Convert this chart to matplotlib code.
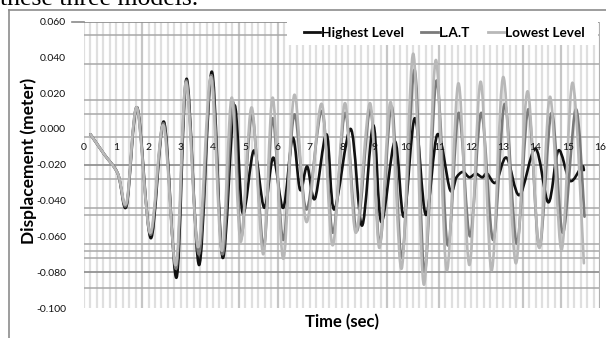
import numpy as np
import matplotlib
matplotlib.use("Agg")
import matplotlib.pyplot as plt
from matplotlib.path import Path
from matplotlib.patches import PathPatch, Rectangle
from matplotlib.lines import Line2D

# peaks / troughs: time (sec), displacement (meter)
t_high = [0.20, 0.62, 1.05, 1.32, 1.65, 2.07, 2.48, 2.87, 3.18, 3.57, 3.96, 4.30, 4.66, 4.92,
          5.27, 5.59, 5.87, 6.18, 6.47, 6.70, 6.92, 7.16, 7.52, 7.76, 8.27, 8.62, 8.97, 9.22,
          9.64, 9.92, 10.26, 10.60, 10.96, 11.35, 11.55, 11.75, 11.95, 12.15, 12.35, 12.50,
          12.77, 13.10, 13.50, 14.00, 14.40, 14.71, 15.07, 15.43, 15.50]
d_high = [-0.003, -0.014, -0.025, -0.043, 0.012, -0.061, 0.004, -0.083, 0.028, -0.076, 0.032, -0.072, 0.013, -0.047,
          -0.012, -0.044, -0.016, -0.044, -0.005, -0.034, -0.021, -0.039, -0.003, -0.045, 0.000, -0.054, 0.002, -0.052,
          -0.007, -0.049, 0.006, -0.048, -0.003, -0.034, -0.027, -0.024, -0.027, -0.025, -0.027, -0.025,
          -0.030, -0.016, -0.037, -0.011, -0.041, -0.012, -0.029, -0.021, -0.023]

t_lat = [0.20, 0.62, 1.05, 1.32, 1.64, 2.06, 2.47, 2.86, 3.17, 3.56, 3.95, 4.29, 4.62, 4.87,
         5.21, 5.57, 5.85, 6.18, 6.52, 6.90, 7.38, 7.72, 8.10, 8.46, 8.88, 9.17, 9.54, 9.86,
         10.25, 10.56, 10.93, 11.28, 11.62, 11.97, 12.32, 12.69, 13.05, 13.42, 13.78, 14.12,
         14.50, 14.85, 15.25, 15.52]
d_lat = [-0.003, -0.014, -0.025, -0.042, 0.012, -0.059, 0.003, -0.078, 0.027, -0.070, 0.030, -0.070, 0.015, -0.061,
         0.008, -0.066, 0.006, -0.062, 0.008, -0.045, 0.010, -0.058, 0.009, -0.057, 0.011, -0.064, 0.0125, -0.072,
         0.033, -0.080, 0.027, -0.065, 0.009, -0.060, 0.009, -0.062, 0.014, -0.064, 0.011, -0.066,
         0.009, -0.058, 0.011, -0.049]

t_low = [0.20, 0.62, 1.05, 1.32, 1.64, 2.05, 2.46, 2.85, 3.16, 3.54, 3.93, 4.27, 4.58, 4.86,
         5.20, 5.56, 5.85, 6.18, 6.52, 6.90, 7.37, 7.71, 8.09, 8.43, 8.87, 9.16, 9.51, 9.85,
         10.21, 10.54, 10.91, 11.25, 11.61, 11.95, 12.30, 12.64, 13.00, 13.39, 13.75, 14.12,
         14.45, 14.81, 15.15, 15.50]
d_low = [-0.003, -0.014, -0.025, -0.041, 0.012, -0.058, 0.002, -0.076, 0.026, -0.066, 0.029, -0.068, 0.0175, -0.063,
         0.012, -0.070, 0.0175, -0.0725, 0.019, -0.052, 0.014, -0.065, 0.0144, -0.058, 0.0144, -0.0665, 0.015, -0.078,
         0.042, -0.087, 0.0385, -0.079, 0.0255, -0.076, 0.0264, -0.079, 0.029, -0.075, 0.021, -0.0665,
         0.018, -0.0675, 0.0258, -0.075]

labels = ["Highest Level", "L.A.T", "Lowest Level"]
colors = ["#111111", "#7a7a7a", "#b8b8b8"]
y_ticks = [0.06, 0.04, 0.02, 0.0, -0.02, -0.04, -0.06, -0.08, -0.10]
x_ticks = list(range(0, 17))


def smooth_path(t, d):
    # excel style smoothed line: cubic bezier through the read points
    p = np.column_stack([t, d])
    n = len(p)
    verts = [p[0]]
    codes = [Path.MOVETO]
    for i in range(n - 1):
        p0 = p[i - 1] if i > 0 else p[i]
        p3 = p[i + 2] if i + 2 < n else p[i + 1]
        verts += [p[i] + (p[i + 1] - p0) / 6, p[i + 1] - (p3 - p[i]) / 6, p[i + 1]]
        codes += [Path.CURVE4] * 3
    return Path(verts, codes)


W, H = 606, 338
fig = plt.figure(figsize=(W / 100, H / 100), dpi=100)
ax = fig.add_axes([84 / W, 1 - 308 / H, 516 / W, 286.5 / H])
ax.set_xlim(0, 16)
ax.set_ylim(-0.10, 0.06)
for s in ax.spines.values():
    s.set_visible(False)

# messy scanned gridlines
dark_v = [1.8, 4.8, 6.0, 9.4, 11.0, 13.6, 14.8]
for tv in np.arange(0, 16.01, 0.2):
    c = "#c6c6c6" if any(abs(tv - d) < 0.05 for d in dark_v) else "#dfdfdf"
    ax.axvline(tv, color=c, lw=1.6, zorder=0.5)
grid_h = [0.0525, 0.0361, 0.016, 0.0083, -0.0043, -0.028, -0.0443, -0.048,
          -0.0644, -0.068, -0.0722, -0.0887]
for gv in grid_h:
    ax.axhline(gv, color="#a8a8a8", lw=1.1, zorder=1)
for gv in [0.06, -0.02, -0.08]:
    ax.axhline(gv, color="#8a8a8a", lw=1.2, zorder=1)
ax.add_line(Line2D([-12 / 516, 0], [1, 1], transform=ax.transAxes, color="#8a8a8a",
                   lw=1.2, clip_on=False))
ax.axvline(16, color="#b0b0b0", lw=2.2, zorder=1)

for t, d, c in zip([t_high, t_lat, t_low], [d_high, d_lat, d_low], colors):
    ax.add_patch(PathPatch(smooth_path(t, d), fill=False, edgecolor=c, lw=1.9,
                           joinstyle="round", capstyle="round", zorder=3))

ax.set_xticks([])
ax.set_yticks(y_ticks)
ax.set_yticklabels([f"{v:.3f}".replace("-0.000", "0.000") for v in y_ticks],
                   family="Lato", size=7.5, color="#111111")
ax.tick_params(axis="y", length=0, pad=13)
for xt in x_ticks:
    ax.text(xt, -0.0105, str(xt), ha="center", va="center", family="Lato", size=7.5,
            color="#111111", zorder=4)

# legend area blanks out the grid in the top right
ax.add_patch(Rectangle((287 / W, 1 - 45 / H), 311 / W, 35 / H, transform=fig.transFigure,
                       facecolor="white", edgecolor="none", clip_on=False, zorder=2))
handles = [Line2D([], [], color=c, lw=2) for c in colors]
ax.legend(handles, labels, ncol=3, loc="center", bbox_to_anchor=(444 / W, 1 - 33 / H),
          bbox_transform=fig.transFigure, frameon=False, handlelength=1.2,
          handletextpad=0.05, columnspacing=1.3,
          prop={"family": "Lato", "weight": "bold", "size": 9.8})

fig.text(29 / W, 1 - 161 / H, "Displacement (meter)", rotation=90, ha="center", va="center",
         family="Lato", weight="bold", size=12.5)
fig.text(342 / W, 1 - 322 / H, "Time (sec)", ha="center", va="center",
         family="Lato", weight="bold", size=12)

# chart border and cut-off caption above it
fig.add_artist(Line2D([9 / W, 9 / W], [0, 1 - 10 / H], color="#8c8c8c", lw=1.2))
fig.add_artist(Line2D([9 / W, 1], [1 - 10 / H, 1 - 10 / H], color="#8c8c8c", lw=1.2))
fig.text(0, 1 - 5 / H, "these three models.", family="Liberation Serif", size=18.5,
         va="baseline", ha="left")

fig.savefig("out.png", dpi=100)
